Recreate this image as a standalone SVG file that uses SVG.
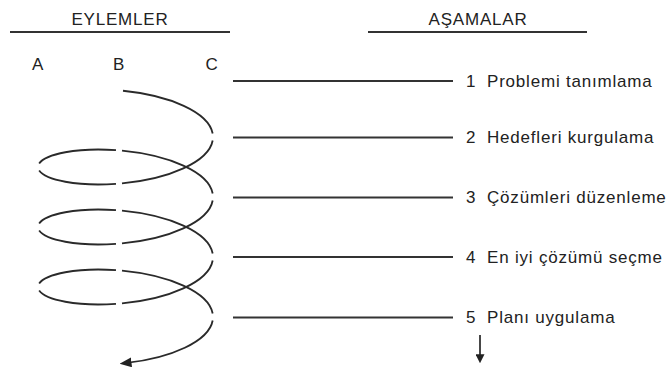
<svg xmlns="http://www.w3.org/2000/svg" width="669" height="372" viewBox="0 0 669 372">
<style>
text{font-family:"Liberation Sans",Arial,Helvetica,sans-serif;font-size:17px;letter-spacing:0.8px;fill:#222}
.mid{text-anchor:middle}
.rule{stroke:#333;stroke-width:2;fill:none}
.lead{stroke:#333;stroke-width:1.8;fill:none}
.spiral{stroke:#2a2a2a;stroke-width:1.8;fill:none;stroke-linecap:butt}
</style>
<defs>
<marker id="ah" viewBox="0 0 12 10" refX="5" refY="5" markerWidth="12" markerHeight="10" markerUnits="userSpaceOnUse" orient="auto">
<path d="M0,0 L12,5 L0,10 z" fill="#222"/>
</marker>
<marker id="ahs" viewBox="0 0 10 10" refX="2" refY="5" markerWidth="9" markerHeight="9" markerUnits="userSpaceOnUse" orient="auto">
<path d="M0,0 L10,5 L0,10 z" fill="#222"/>
</marker>
</defs>

<g id="headers">
<text class="mid" x="120" y="25">EYLEMLER</text>
<line class="rule" x1="10" y1="32" x2="230" y2="32"/>
<text class="mid" x="478" y="25">AŞAMALAR</text>
<line class="rule" x1="368" y1="32" x2="587" y2="32"/>
</g>

<g id="columns">
<text class="mid" x="38" y="70">A</text>
<text class="mid" x="119" y="70">B</text>
<text class="mid" x="212" y="70">C</text>
</g>

<g id="spiral" class="spiral">
<path d="M123.0,90.74 C169.35,95.33 208.70,112.09 212.68,133.52"/>
<path d="M212.68,140.48 C208.66,162.09 168.72,178.92 122.00,183.36"/>
<path d="M115.98,183.86 C76.94,186.63 45.53,179.91 39.16,170.47"/>
<path d="M39.16,163.53 C45.53,154.09 76.94,147.37 115.98,150.14"/>
<path d="M122.00,150.64 C168.72,155.08 208.66,171.91 212.68,193.52"/>
<path d="M212.68,200.48 C208.66,222.09 168.72,238.92 122.00,243.36"/>
<path d="M115.98,243.86 C76.94,246.63 45.53,239.91 39.16,230.47"/>
<path d="M39.16,223.53 C45.53,214.09 76.94,207.37 115.98,210.14"/>
<path d="M122.00,210.64 C168.72,215.08 208.66,231.91 212.68,253.52"/>
<path d="M212.68,260.48 C208.66,282.09 168.72,298.92 122.00,303.36"/>
<path d="M115.98,303.86 C76.94,306.63 45.53,299.91 39.16,290.47"/>
<path d="M39.16,283.53 C45.53,274.09 76.94,267.37 115.98,270.14"/>
<path d="M122.00,270.64 C168.72,275.08 208.66,291.91 212.68,313.52"/>
<path d="M212.68,320.48 C208.78,341.46 170.91,358.04 126.5,362.9" marker-end="url(#ah)"/>
</g>

<g id="connectors">
<line class="lead" x1="233" y1="81" x2="453" y2="81"/>
<line class="lead" x1="233" y1="137.5" x2="453" y2="137.5"/>
<line class="lead" x1="233" y1="197.5" x2="453" y2="197.5"/>
<line class="lead" x1="233" y1="257" x2="453" y2="257"/>
<line class="lead" x1="233" y1="317.5" x2="453" y2="317.5"/>
<line class="lead" x1="480" y1="335" x2="480" y2="356" marker-end="url(#ahs)"/>
</g>

<g id="stage1"><text x="466" y="86.5">1</text><text x="487" y="86.5">Problemi tanımlama</text></g>
<g id="stage2"><text x="466" y="143">2</text><text x="487" y="143">Hedefleri kurgulama</text></g>
<g id="stage3"><text x="466" y="203">3</text><text x="487" y="203">Çözümleri düzenleme</text></g>
<g id="stage4"><text x="466" y="262.5">4</text><text x="487" y="262.5">En iyi çözümü seçme</text></g>
<g id="stage5"><text x="466" y="323">5</text><text x="487" y="323">Planı uygulama</text></g>
</svg>
